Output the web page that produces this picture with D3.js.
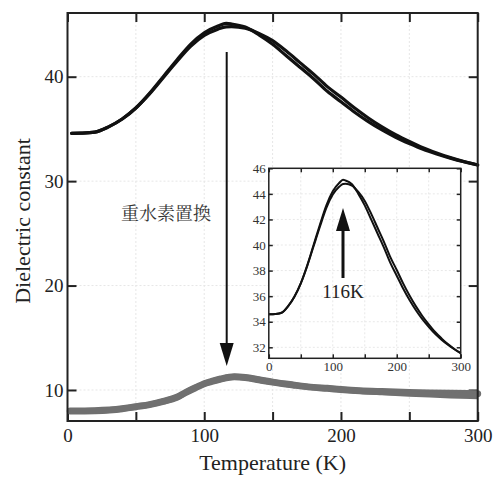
<!DOCTYPE html>
<html><head><meta charset="utf-8">
<script src="https://cdn.jsdelivr.net/npm/d3@7"></script>
<style>body{margin:0;background:#fff}svg{display:block}</style>
</head><body><svg id="c" width="494" height="478"></svg>
<script>
// ---- data ----
const tempH = [3,10,20,30,40,50,60,70,80,90,100,110,116,120,130,140,150,160,170,180,190,200,210,220,230,240,250,260,270,280,290,300];
const epsHeat = [34.58,34.6,34.7,35.2,35.95,37.0,38.4,40.0,41.6,43.1,44.2,44.85,45.1,45.05,44.75,44.0,43.1,42.0,40.9,39.8,38.6,37.6,36.6,35.7,34.9,34.2,33.6,33.05,32.6,32.2,31.85,31.55];
const epsCool = [34.58,34.6,34.7,35.2,35.95,37.0,38.35,39.9,41.45,42.9,43.95,44.55,44.78,44.8,44.65,44.15,43.45,42.45,41.35,40.25,39.05,38.05,37.0,36.05,35.2,34.45,33.8,33.2,32.7,32.25,31.87,31.55];
const tempD = [2,20,40,50,60,70,80,87,95,100,105,112,122,130,140,150,165,180,190,200,214,230,250,265,280,300];
const epsD = [7.99,8.02,8.2,8.4,8.6,8.9,9.3,9.8,10.3,10.6,10.8,11.05,11.27,11.2,10.98,10.75,10.48,10.25,10.16,10.05,9.93,9.85,9.77,9.72,9.68,9.65];
const mainXTicks = [0,50,100,150,200,250,300];
const mainXLabels = [0,100,200,300];
const mainYTicks = [10,20,30,40];
const insetXTicks = [0,50,100,150,200,250,300];
const insetXLabels = [0,100,200,300];
const insetYTicks = [32,34,36,38,40,42,44,46];
const xTitle = "Temperature (K)";
const yTitle = "Dielectric constant";
const note = "重水素置換";
const peakLabel = "116K";
const peakT = 116;

const svg = d3.select("#c");
const serif = "'Liberation Serif','Times New Roman',serif";

// ---- main scales ----
const M = {l:67.5, r:477.7, t:13, b:421};
const x = d3.scaleLinear().domain([0,300]).range([M.l, M.r]);
const y = d3.scaleLinear().domain([7.03,46.1]).range([M.b, M.t]);

// grid
const grid = svg.append("g").attr("stroke","#e6e6e6").attr("stroke-width",1).attr("stroke-dasharray","2,2");
grid.selectAll("line.v").data(mainXTicks.filter(d=>d>0&&d<300)).join("line")
  .attr("x1",d=>x(d)).attr("x2",d=>x(d)).attr("y1",M.t).attr("y2",M.b);
grid.selectAll("line.h").data(mainYTicks).join("line")
  .attr("y1",d=>y(d)).attr("y2",d=>y(d)).attr("x1",M.l).attr("x2",M.r);

function styleAxis(g, size){
  g.select(".domain").remove();
  g.selectAll(".tick line").attr("stroke","#222").attr("stroke-width",2);
  g.selectAll(".tick text").attr("font-family",serif).attr("font-size",size).attr("fill","#222");
}
const fmtMain = d => mainXLabels.includes(d) ? d : "";
svg.append("g").attr("transform",`translate(0,${M.b})`)
  .call(d3.axisBottom(x).tickValues(mainXTicks).tickFormat(fmtMain).tickSize(-9).tickPadding(8))
  .call(g=>styleAxis(g,19));
svg.append("g").attr("transform",`translate(0,${M.t})`)
  .call(d3.axisTop(x).tickValues(mainXTicks).tickFormat("").tickSize(-9))
  .call(g=>styleAxis(g,19));
svg.append("g").attr("transform",`translate(${M.l},0)`)
  .call(d3.axisLeft(y).tickValues(mainYTicks).tickSize(-9).tickPadding(4))
  .call(g=>styleAxis(g,19));
svg.append("g").attr("transform",`translate(${M.r},0)`)
  .call(d3.axisRight(y).tickValues(mainYTicks).tickFormat("").tickSize(-9))
  .call(g=>styleAxis(g,19));

// curves
const lineMain = d3.line().curve(d3.curveMonotoneX);
function pts(ts, vs, sx, sy){ return ts.map((t,i)=>[sx(t), sy(vs[i])]); }
svg.append("path").attr("d", lineMain(pts(tempD, epsD, x, y)))
  .attr("fill","none").attr("stroke","#707070").attr("stroke-width",7).attr("stroke-linecap","round");
svg.append("path").attr("d", lineMain(pts(tempD, epsD.map((v,i)=>v - Math.max(0,(tempD[i]-200)/100)*0.25), x, y)))
  .attr("fill","none").attr("stroke","#707070").attr("stroke-width",6);
[epsHeat, epsCool].forEach(arr=>{
  svg.append("path").attr("d", lineMain(pts(tempH, arr, x, y)))
    .attr("fill","none").attr("stroke","#111").attr("stroke-width",3.2).attr("stroke-linecap","round");
});

// frame
svg.append("rect").attr("x",M.l).attr("y",M.t).attr("width",M.r-M.l).attr("height",M.b-M.t)
  .attr("fill","none").attr("stroke","#222").attr("stroke-width",2);

// big arrow
const ax = 226.7;
svg.append("line").attr("x1",ax).attr("x2",ax).attr("y1",52).attr("y2",345)
  .attr("stroke","#111").attr("stroke-width",2);
svg.append("path").attr("d",`M${ax-7},343 L${ax+7},343 L${ax},366 Z`).attr("fill","#111");

// note text
svg.append("text").attr("x",166).attr("y",220).attr("text-anchor","middle")
  .attr("font-family","'Noto Serif CJK JP','Noto Sans CJK JP',sans-serif").attr("font-size",18).attr("fill","#333")
  .text(note);

// titles
svg.append("text").attr("x",(M.l+M.r)/2).attr("y",470).attr("text-anchor","middle")
  .attr("font-family",serif).attr("font-size",22).attr("fill","#222").text(xTitle);
svg.append("text").attr("transform",`translate(30,221) rotate(-90)`).attr("text-anchor","middle")
  .attr("font-family",serif).attr("font-size",22).attr("fill","#222").text(yTitle);

// ---- inset ----
const I = {l:268.8, r:460.7, t:168.3, b:358.3};
const xi = d3.scaleLinear().domain([0,300]).range([I.l, I.r]);
const yi = d3.scaleLinear().domain([31.14,46]).range([I.b, I.t]);
svg.append("rect").attr("x",I.l).attr("y",I.t).attr("width",I.r-I.l).attr("height",I.b-I.t).attr("fill","#fff");
const gi = svg.append("g").attr("stroke","#e8e8e8").attr("stroke-width",1).attr("stroke-dasharray","2,2");
gi.selectAll("line.v").data(insetXTicks.filter(d=>d>0&&d<300)).join("line")
  .attr("x1",d=>xi(d)).attr("x2",d=>xi(d)).attr("y1",I.t).attr("y2",I.b);
gi.selectAll("line.h").data(insetYTicks.filter(d=>d<46)).join("line")
  .attr("y1",d=>yi(d)).attr("y2",d=>yi(d)).attr("x1",I.l).attr("x2",I.r);
function styleInset(g){
  g.select(".domain").remove();
  g.selectAll(".tick line").attr("stroke","#222").attr("stroke-width",1.5);
  g.selectAll(".tick text").attr("font-family",serif).attr("font-size",13).attr("fill","#333");
}
const fmtIn = d => insetXLabels.includes(d) ? d : "";
svg.append("g").attr("transform",`translate(0,${I.b})`)
  .call(d3.axisBottom(xi).tickValues(insetXTicks).tickFormat(fmtIn).tickSize(-4).tickPadding(3)).call(styleInset);
svg.append("g").attr("transform",`translate(0,${I.t})`)
  .call(d3.axisTop(xi).tickValues(insetXTicks).tickFormat("").tickSize(-4)).call(styleInset);
svg.append("g").attr("transform",`translate(${I.l},0)`)
  .call(d3.axisLeft(yi).tickValues(insetYTicks).tickSize(-4).tickPadding(3)).call(styleInset);
svg.append("g").attr("transform",`translate(${I.r},0)`)
  .call(d3.axisRight(yi).tickValues(insetYTicks).tickFormat("").tickSize(-4)).call(styleInset);
svg.append("clipPath").attr("id","ic").append("rect")
  .attr("x",I.l).attr("y",I.t-3).attr("width",I.r-I.l+2).attr("height",I.b-I.t+3);
[epsHeat, epsCool].forEach(arr=>{
  svg.append("path").attr("d", lineMain(pts([0].concat(tempH), [arr[0]].concat(arr), xi, yi)))
    .attr("fill","none").attr("stroke","#111").attr("stroke-width",2).attr("clip-path","url(#ic)");
});
svg.append("rect").attr("x",I.l).attr("y",I.t).attr("width",I.r-I.l).attr("height",I.b-I.t)
  .attr("fill","none").attr("stroke","#222").attr("stroke-width",1.5);

// inset arrow
const iax = xi(peakT);
svg.append("line").attr("x1",iax).attr("x2",iax).attr("y1",278).attr("y2",228)
  .attr("stroke","#111").attr("stroke-width",3);
svg.append("path").attr("d",`M${iax-7},231 L${iax+7},231 L${iax},208 Z`).attr("fill","#111");
svg.append("text").attr("x",iax).attr("y",298).attr("text-anchor","middle")
  .attr("font-family",serif).attr("font-size",19).attr("fill","#222").text(peakLabel);
</script></body></html>
